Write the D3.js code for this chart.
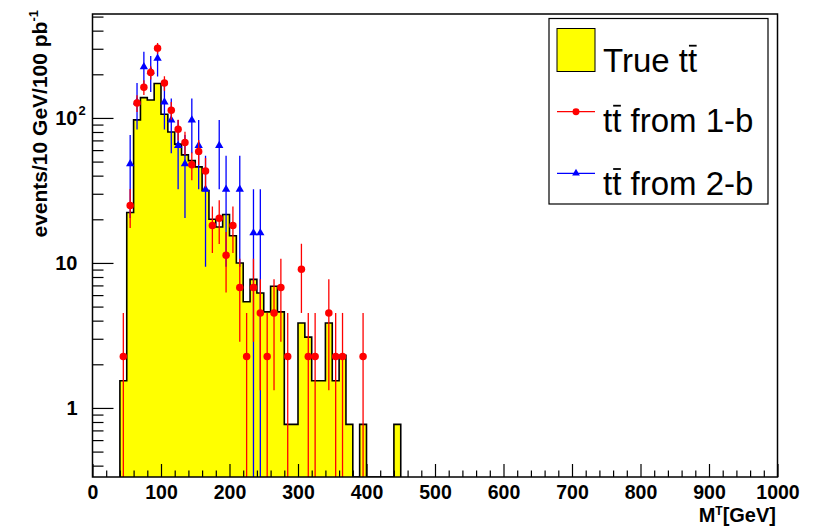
<!DOCTYPE html>
<html><head><meta charset="utf-8">
<script src="https://cdn.jsdelivr.net/npm/d3@7"></script>
<style>
body{margin:0;background:#fff}
svg{display:block}
text{font-family:"Liberation Sans",Arial,Helvetica,sans-serif}
</style>
</head><body>
<svg id="c" width="821" height="527"></svg>
<script>
// ---------------- data ----------------
const binLow = [40,50,60,70,80,90,100,110,120,130,140,150,160,170,180,190,200,210,220,230,240,250,260,270,280,290,300,310,320,330,340,350,360,370,380,390,400,410,420,430,440];
const trueValues = [1.54,22.3,97,138,133,173,106,80,66,55.6,50.8,46,31.6,20,17.7,21.6,15.4,10,5.4,7.7,6.2,4.6,6.9,4.6,0.77,0.77,3.85,3.08,1.54,1.54,3.85,1.54,2.31,0.77,0,0.77,0,0,0,0,0.77];
const binWidth = 10;

const centers1b = [45,55,65,75,85,95,105,115,125,135,145,155,165,175,185,195,205,215,225,235,245,255,265,275,285,305,315,325,345,355,365,395];
const values1b  = [2.26,24.9,126.6,163,205.7,303,174,113,83.6,67.8,47.5,58.8,43,18.1,20.3,11.3,18.1,6.78,2.26,6.78,4.52,2.26,4.52,6.78,2.26,9.04,2.26,2.26,4.52,2.26,2.26,2.26];
const weight1b = 2.26;   // event weight (Poisson errors)

const centers2b = [55,65,75,85,95,105,115,125,135,145,155,165,185,195,215,235,245];
const values2b  = [48.3,128.8,225.4,209.3,257.6,128.8,96.6,64.4,48.3,96.6,64.4,32.2,64.4,32.2,32.2,16.1,16.1];
const weight2b = 16.1;

const xMajorTicks = [0,100,200,300,400,500,600,700,800,900,1000];
const yMajorTicks = [1,10,100];
const yMajorLabels = ["1","10","10^2"];
const legendLabels = ["True tt", "tt from 1-b", "tt from 2-b"];

// ---------------- layout ----------------
const svg = d3.select("#c");
const L = 92.5, R = 777.5, T = 14, B = 477;
const x = d3.scaleLinear().domain([0,1000]).range([L,R]);
const y = d3.scaleLog().domain([0.334,521]).range([B,T]);

svg.append("rect").attr("width",821).attr("height",527).attr("fill","#fff");

svg.append("defs").append("clipPath").attr("id","clip")
  .append("rect").attr("x",L).attr("y",T).attr("width",R-L).attr("height",B-T);
const plot = svg.append("g").attr("clip-path","url(#clip)");

// histogram
const yv = v => v > 0 ? Math.min(B, y(v)) : B;
let pts = [[x(binLow[0]), B]];
binLow.forEach((lo,i) => {
  pts.push([x(lo), yv(trueValues[i])]);
  pts.push([x(lo+binWidth), yv(trueValues[i])]);
});
pts.push([x(binLow[binLow.length-1]+binWidth), B]);
const line = d3.line();
plot.append("path").attr("d", line(pts)+"Z").attr("fill","#ffff00").attr("stroke","none");
plot.append("path").attr("d", line(pts)).attr("fill","none").attr("stroke","#000").attr("stroke-width",1.6);

// error graphs
function drawGraph(centers, values, w, color, symbol, size) {
  const g = plot.append("g");
  centers.forEach((c,i) => {
    const v = values[i], e = Math.sqrt(v*w);
    const lo = v - e;
    g.append("line").attr("x1",x(c)).attr("x2",x(c))
      .attr("y1", y(v+e)).attr("y2", lo > 0.05 ? y(lo) : B+5)
      .attr("stroke",color).attr("stroke-width",1.3);
  });
  g.selectAll("path.m").data(centers).join("path").attr("class","m")
    .attr("transform",(c,i)=>`translate(${x(c)},${y(values[i])})`)
    .attr("d", d3.symbol().type(symbol).size(size)())
    .attr("fill",color);
}
drawGraph(centers2b, values2b, weight2b, "#0000ff", d3.symbolTriangle, 30);
drawGraph(centers1b, values1b, weight1b, "#ff0000", d3.symbolCircle, 44);

// ---------------- axes ----------------
const xMinor = d3.range(0,1001,20).filter(v => v % 100 !== 0);
const gx = svg.append("g").attr("transform",`translate(0,${B})`);
gx.call(d3.axisBottom(x).tickValues(xMinor).tickSize(-6.5).tickFormat(""))
  .call(g=>g.select(".domain").remove());
const gx2 = svg.append("g").attr("transform",`translate(0,${B})`);
gx2.call(d3.axisBottom(x).tickValues(xMajorTicks).tickSize(-13).tickPadding(8).tickFormat(d3.format("d")))
  .call(g=>g.select(".domain").remove());
gx2.selectAll("text").attr("font-size",19.5).attr("font-weight","bold").attr("fill","#000");

const yMinor = [];
[0.1,1,10,100].forEach(d => { for (let k=2;k<=9;k++){ const v=d*k; if (v>0.334 && v<521) yMinor.push(v);} });
const gy = svg.append("g").attr("transform",`translate(${L},0)`);
gy.call(d3.axisLeft(y).tickValues(yMinor).tickSize(-11).tickFormat(""))
  .call(g=>g.select(".domain").remove());
const gy2 = svg.append("g").attr("transform",`translate(${L},0)`);
gy2.call(d3.axisLeft(y).tickValues(yMajorTicks).tickSize(-21).tickPadding(15).tickFormat((d,i)=>yMajorLabels[i].split("^")[0]))
  .call(g=>g.select(".domain").remove());
svg.selectAll("g.tick line").attr("stroke","#000").attr("stroke-width",1.2);
gy2.selectAll("text").attr("font-size",20).attr("font-weight","bold").attr("fill","#000");
gy2.selectAll("g.tick").each(function(d,i){
  const lab = yMajorLabels[i];
  if (lab.includes("^")) {
    d3.select(this).append("text").attr("x",-14).attr("y",-3).attr("text-anchor","start")
      .attr("font-size",13).attr("font-weight","bold").attr("fill","#000").text(lab.split("^")[1]);
  }
});

// frame
svg.append("rect").attr("x",L).attr("y",T).attr("width",R-L).attr("height",B-T)
  .attr("fill","none").attr("stroke","#000").attr("stroke-width",1.5);

// axis titles
const xt = svg.append("text").attr("x",776).attr("y",522).attr("text-anchor","end")
  .attr("font-size",20).attr("font-weight","bold");
xt.append("tspan").text("M");
xt.append("tspan").attr("dy",-7).attr("font-size",12).text("T");
xt.append("tspan").attr("dy",7).text("[GeV]");

const yt = svg.append("text").attr("transform","translate(47,10) rotate(-90)").attr("text-anchor","end")
  .attr("font-size",21).attr("font-weight","bold");
yt.append("tspan").text("events/10 GeV/100 pb");
yt.append("tspan").attr("dy",-9).attr("font-size",13).text("-1");

// ---------------- legend ----------------
const lg = svg.append("g");
lg.append("rect").attr("x",549).attr("y",18.5).attr("width",219).attr("height",185.5)
  .attr("fill","#fff").attr("stroke","#000").attr("stroke-width",1.2);
lg.append("rect").attr("x",557).attr("y",28.5).attr("width",38).attr("height",43)
  .attr("fill","#ffff00").attr("stroke","#000").attr("stroke-width",1);
lg.append("line").attr("x1",557).attr("x2",595).attr("y1",111.7).attr("y2",111.7).attr("stroke","#ff0000").attr("stroke-width",1.3);
lg.append("path").attr("transform","translate(576,111.7)").attr("d",d3.symbol().type(d3.symbolCircle).size(38)()).attr("fill","#ff0000");
lg.append("line").attr("x1",557).attr("x2",595).attr("y1",173.3).attr("y2",173.3).attr("stroke","#0000ff").attr("stroke-width",1.3);
lg.append("path").attr("transform","translate(576,173.3)").attr("d",d3.symbol().type(d3.symbolTriangle).size(26)()).attr("fill","#0000ff");

const baselines = [71.7,131.7,195];
const barIdx = [6,1,1];
legendLabels.forEach((lab,i) => {
  const t = lg.append("text").attr("x",603).attr("y",baselines[i]).attr("font-size",33).attr("fill","#000").text(lab);
  const ext = t.node().getExtentOfChar(barIdx[i]);
  lg.append("line").attr("x1",ext.x+1).attr("x2",ext.x+ext.width-0.5)
    .attr("y1",baselines[i]-26).attr("y2",baselines[i]-26)
    .attr("stroke","#000").attr("stroke-width",1.8);
});
</script>
</body></html>
